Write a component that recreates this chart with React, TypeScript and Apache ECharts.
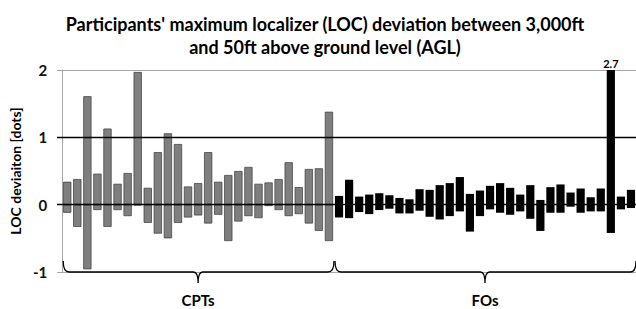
import React, { useEffect, useRef } from 'react';
import * as echarts from 'echarts';

// Maximum positive / negative LOC deviation per participant (dots)
const cptMax = [0.34, 0.38, 1.61, 0.46, 1.13, 0.31, 0.47, 1.97, 0.25, 0.78, 1.06, 0.9, 0.27, 0.32, 0.78, 0.34, 0.44, 0.5, 0.56, 0.31, 0.33, 0.38, 0.63, 0.26, 0.53, 0.54, 1.38];
const cptMin = [-0.12, -0.33, -0.96, -0.08, -0.33, -0.08, -0.17, -0.01, -0.27, -0.43, -0.5, -0.27, -0.19, -0.16, -0.28, -0.15, -0.54, -0.25, -0.17, -0.2, -0.02, -0.08, -0.17, -0.14, -0.28, -0.39, -0.54];
const foMax = [0.13, 0.37, 0.12, 0.15, 0.17, 0.14, 0.1, 0.08, 0.23, 0.22, 0.29, 0.32, 0.41, 0.16, 0.21, 0.28, 0.32, 0.25, 0.15, 0.29, 0.07, 0.26, 0.3, 0.18, 0.24, 0.11, 0.24, 2.7, 0.12, 0.22];
const foMin = [-0.19, -0.2, -0.11, -0.14, -0.08, -0.06, -0.13, -0.13, -0.09, -0.18, -0.22, -0.17, -0.1, -0.4, -0.17, -0.07, -0.12, -0.15, -0.1, -0.21, -0.39, -0.12, -0.12, -0.03, -0.12, -0.1, -0.1, -0.42, -0.07, -0.05];
const groupNames = ['CPTs', 'FOs'];
const refLines = [1, 0];
const yMin = -1;
const yMax = 2;

const FONT = 'Lato';

export default function App() {
  const ref = useRef<HTMLDivElement>(null);
  useEffect(() => {
    const chart = echarts.init(ref.current!, null, { renderer: 'svg' });
    const nC = cptMax.length;
    const cats = [
      ...cptMax.map((_, i) => `CPT ${i + 1}`),
      ...foMax.map((_, i) => `FO ${i + 1}`),
    ];
    const grey = { color: '#7f7f7f', borderColor: '#3a3a3a', borderWidth: 0.7 };
    const black = { color: '#000000', borderColor: '#000000', borderWidth: 0 };
    const styleFor = (i: number) => (i < nC ? grey : black);
    const maxAll = [...cptMax, ...foMax];
    const minAll = [...cptMin, ...foMin];
    const posData = maxAll.map((v, i) => {
      const item: any = { value: v, itemStyle: styleFor(i) };
      if (v > yMax) {
        item.label = {
          show: true,
          position: 'top',
          distance: 1,
          formatter: '{c}',
          fontFamily: FONT,
          fontWeight: 'bold',
          fontSize: 11,
          color: '#000',
        };
      }
      return item;
    });
    const negData = minAll.map((v, i) => ({ value: v, itemStyle: styleFor(i) }));
    const braces = [
      [0, nC - 1, 0],
      [nC, cats.length - 1, 1],
    ];

    chart.setOption({
      animation: false,
      title: {
        text: "Participants' maximum localizer (LOC) deviation between 3,000ft\nand 50ft above ground level (AGL)",
        left: 320,
        textAlign: 'center',
        top: 7,
        textStyle: {
          fontFamily: FONT,
          fontWeight: 'bold',
          fontSize: 18,
          lineHeight: 23,
          color: '#000',
        },
      },
      grid: { left: 62, right: -4, top: 70, bottom: 37 },
      xAxis: {
        type: 'category',
        data: cats,
        axisLine: { show: true, onZero: false, lineStyle: { color: '#a6a6a6', width: 1 } },
        axisTick: { show: false },
        axisLabel: { show: false },
        splitLine: { show: false },
      },
      yAxis: {
        type: 'value',
        min: yMin,
        max: yMax,
        interval: 1,
        axisLine: { show: true, lineStyle: { color: '#a6a6a6', width: 1 } },
        axisTick: { show: true, length: 5, lineStyle: { color: '#a6a6a6' } },
        splitLine: { show: true, lineStyle: { color: '#a6a6a6', width: 1 } },
        axisLabel: {
          margin: 15,
          fontFamily: FONT,
          fontWeight: 'bold',
          fontSize: 15,
          color: '#111',
        },
        name: 'LOC deviaiton [dots]',
        nameLocation: 'middle',
        nameRotate: 90,
        nameGap: 33,
        nameTextStyle: {
          fontFamily: FONT,
          fontWeight: 'bold',
          fontSize: 14,
          color: '#000',
        },
      },
      series: [
        {
          type: 'bar',
          name: 'max',
          data: posData,
          barWidth: 8.2,
          barGap: '-100%',
          clip: true,
          silent: true,
          emphasis: { disabled: true },
          markLine: {
            silent: true,
            symbol: 'none',
            label: { show: false },
            lineStyle: { color: '#000', width: 1.4, type: 'solid' },
            data: refLines.map((v) => [
              { yAxis: v, x: 57 },
              { yAxis: v, x: 640 },
            ]),
          },
        },
        {
          type: 'bar',
          name: 'min',
          data: negData,
          barWidth: 8.2,
          barGap: '-100%',
          silent: true,
          emphasis: { disabled: true },
        },
        {
          type: 'custom',
          name: 'groups',
          data: braces,
          silent: true,
          clip: false,
          z: 5,
          renderItem: (params: any, api: any) => {
            const s = api.value(0);
            const e = api.value(1);
            const bw = api.size([1, 0])[0];
            const p0 = api.coord([s, yMin]);
            const p1 = api.coord([e, yMin]);
            const x0 = p0[0] - bw / 2 + 1;
            const x1 = p1[0] + bw / 2;
            const y = p0[1];
            const cx = (p0[0] - bw / 2 + x1) / 2;
            const h = 11;
            const r = 6;
            const d = 11;
            const rt = 4.5;
            const pathData =
              `M${x0} ${y - h} Q${x0} ${y} ${x0 + r} ${y} L${cx - rt} ${y} ` +
              `Q${cx} ${y} ${cx} ${y + d} Q${cx} ${y} ${cx + rt} ${y} ` +
              `L${x1 - r} ${y} Q${x1} ${y} ${x1} ${y - h}`;
            return {
              type: 'group',
              children: [
                {
                  type: 'path',
                  shape: { pathData },
                  style: { fill: 'none', stroke: '#000', lineWidth: 1.3 },
                },
                {
                  type: 'text',
                  style: {
                    text: groupNames[params.dataIndex],
                    x: cx,
                    y: y + 28,
                    align: 'center',
                    textAlign: 'center',
                    verticalAlign: 'middle',
                    textVerticalAlign: 'middle',
                    font: `bold 15px ${FONT}`,
                    fill: '#000',
                  },
                },
              ],
            };
          },
        },
      ],
    });
    return () => chart.dispose();
  }, []);
  return (
    <div
      ref={ref}
      style={{ position: 'absolute', left: 0, top: 0, width: 636, height: 309, overflow: 'hidden', background: '#fff' }}
    />
  );
}
